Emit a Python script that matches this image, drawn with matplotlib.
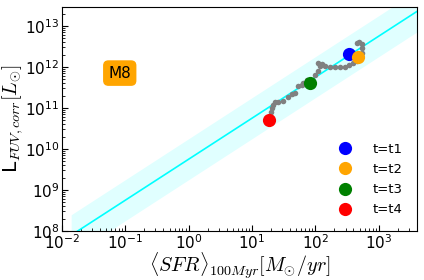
import matplotlib
matplotlib.use("Agg")
import matplotlib.pyplot as plt
import numpy as np

plt.rcParams['mathtext.fontset'] = 'cm'
plt.rcParams['font.family'] = ['DejaVu Sans']

# trajectory (gray dots)
traj_sfr = [20.0, 21.0, 21.8, 23.2, 26.1, 30.7, 37.6, 42.6, 48.0, 54.1, 61.2, 64.9,
            74, 99, 112, 119, 112, 127, 143, 171, 206, 247, 296, 346, 400, 457,
            510, 543, 555, 543, 498, 453]
traj_L = [8.1e10, 9.8e10, 1.18e11, 1.38e11, 1.43e11, 1.51e11, 1.89e11, 2.19e11,
          2.28e11, 3.44e11, 3.64e11, 4.0e11, 4.8e11, 6.4e11, 8.0e11, 1.06e12,
          1.27e12, 1.16e12, 1.06e12, 1.02e12, 9.8e11, 9.8e11, 1.02e12, 1.12e12,
          1.23e12, 1.40e12, 1.63e12, 2.16e12, 2.86e12, 3.64e12, 4.0e12, 3.78e12]

# snapshots
snap_labels = ['t=t1', 't=t2', 't=t3', 't=t4']
snap_colors = ['blue', 'orange', 'green', 'red']
snap_sfr = [340, 480, 83, 18.6]
snap_L = [2.1e12, 1.74e12, 4.0e11, 5.1e10]

# relation
rel_sfr = np.array([0.014, 5000.0])
rel_norm = 10**9.75
rel_scatter_dex = 0.5

fig = plt.figure(figsize=(4.24, 2.80), dpi=100)
ax = fig.add_axes([0.146, 0.175, 0.837, 0.800])

rel_L = rel_norm * rel_sfr
ax.fill_between(rel_sfr, rel_L * 10**(-rel_scatter_dex), rel_L * 10**rel_scatter_dex,
                color='#e0ffff', lw=0, zorder=1)
ax.plot(rel_sfr, rel_L, color='cyan', lw=1.2, zorder=2)

ax.plot(traj_sfr, traj_L, 'o', color='gray', ms=4, mew=0, zorder=3)
for lab, c, s, l in zip(snap_labels, snap_colors, snap_sfr, snap_L):
    ax.plot(s, l, 'o', color=c, ms=9.5, mew=0, label=lab, zorder=4)

ax.set_xscale('log')
ax.set_yscale('log')
ax.set_xlim(0.01, 4000)
ax.set_ylim(1e8, 2.9e13)

ax.tick_params(which='both', direction='in', top=False, right=False, labelsize=11)
ax.tick_params(which='major', length=4, pad=2)
ax.tick_params(which='minor', length=2)

ax.set_xlabel(r'$\langle SFR\rangle_{100Myr}[M_{\odot}/yr]$', fontsize=14.5, labelpad=-1)
ax.set_ylabel(r'L$_{FUV,corr}[L_{\odot}]$', fontsize=14.5, labelpad=0)

ax.text(0.163, 0.705, 'M8', transform=ax.transAxes, fontsize=11, ha='center', va='center',
        bbox=dict(boxstyle='round,pad=0.3', fc='orange', ec='orange'))

ax.legend(loc='lower right', frameon=False, fontsize=9.5, handletextpad=1.1,
          labelspacing=0.55, borderaxespad=0.7)

fig.savefig('out.png', dpi=100)
